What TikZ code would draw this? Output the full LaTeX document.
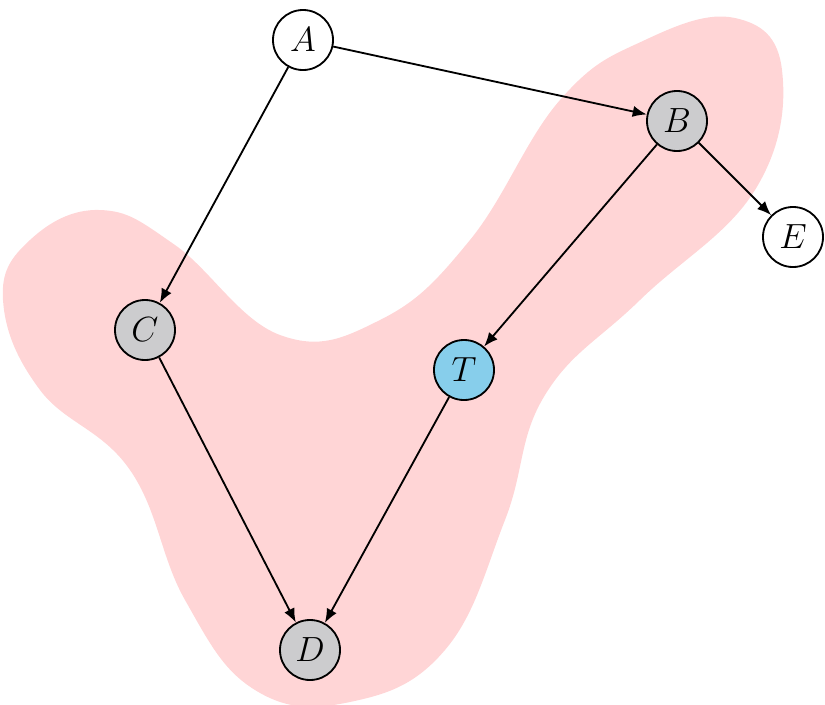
\documentclass[tikz,border=0pt]{standalone}
\usetikzlibrary{arrows.meta}
\definecolor{blob}{RGB}{255,213,214}
\definecolor{gnode}{RGB}{204,204,206}
\definecolor{tnode}{RGB}{135,206,235}
\begin{document}
\begin{tikzpicture}[x=0.025cm,y=-0.025cm,
  v/.style={circle,draw,line width=1.3pt,minimum size=1.5cm,inner sep=0pt,font=\fontsize{25}{25}\selectfont},
  e/.style={-{Latex[length=10pt,width=8pt]},line width=1.3pt}]
\useasboundingbox (0,0) rectangle (825,705);
\fill[blob] plot[smooth cycle,tension=0.7] coordinates{(100,210)(30,240)(3,300)(40,390)(130,470)(185,600)(255,690)(350,702)(445,650)(505,520)(545,395)(640,300)(755,190)(782,70)(735,18)(645,40)(560,100)(470,240)(380,320)(280,335)(175,245)};
\node[v,fill=white] (A) at (303,40) {$A$};
\node[v,fill=gnode] (B) at (677,121) {$B$};
\node[v,fill=white] (E) at (793,237) {$E$};
\node[v,fill=gnode] (C) at (145,330) {$C$};
\node[v,fill=tnode] (T) at (464,370) {$T$};
\node[v,fill=gnode] (D) at (310,650) {$D$};
\draw[e] (A) -- (B);
\draw[e] (A) -- (C);
\draw[e] (B) -- (E);
\draw[e] (B) -- (T);
\draw[e] (C) -- (D);
\draw[e] (T) -- (D);
\end{tikzpicture}
\end{document}
